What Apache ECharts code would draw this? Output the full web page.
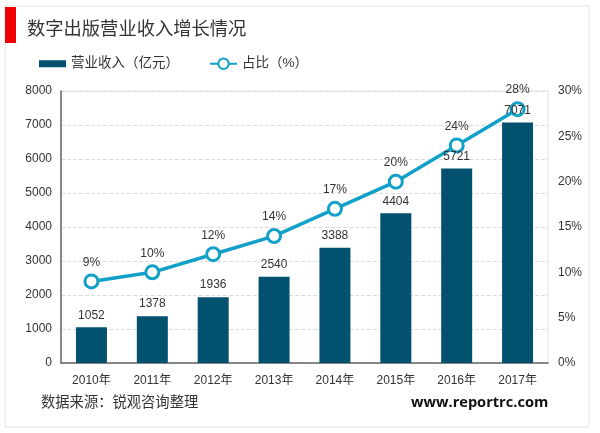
<!DOCTYPE html>
<html><head><meta charset="utf-8">
<style>html,body{margin:0;padding:0;background:#fff}#c{width:600px;height:433px}</style>
<script src="https://cdn.jsdelivr.net/npm/echarts@6/dist/echarts.min.js"></script>
</head><body><div id="c"></div>
<script>
const categories=['2010年','2011年','2012年','2013年','2014年','2015年','2016年','2017年'];
const revenue=[1052,1378,1936,2540,3388,4404,5721,7071];
const share=[9,10,12,14,17,20,24,28];
const titleText='数字出版营业收入增长情况';
const sourceText='数据来源：锐观咨询整理';
const siteText='www.reportrc.com';
const font='"Liberation Sans","Noto Sans CJK SC",sans-serif';
const chart=echarts.init(document.getElementById('c'),null,{renderer:'canvas'});
chart.setOption({
 animation:false,
 textStyle:{fontFamily:font},
 title:{text:titleText,left:27,top:21,padding:0,textStyle:{fontSize:18.3,fontWeight:'normal',color:'#333',fontFamily:font}},
 legend:{left:39,top:57,padding:0,itemGap:30,itemWidth:27,itemHeight:13,textStyle:{fontSize:13.5,color:'#333',fontFamily:font,padding:[0,0,0,0]},
  data:[{name:'营业收入（亿元）',icon:'path://M0,0L27,0L27,0Z M0,3L27,3L27,10L0,10Z M0,13L27,13L27,13Z'},{name:'占比（%）'}]},
 grid:{left:61,right:52,top:91,bottom:70,show:true,borderColor:'#e2e2e2',borderWidth:1,backgroundColor:'transparent'},
 xAxis:{type:'category',data:categories,axisTick:{show:false},axisLine:{lineStyle:{color:'#666',width:1.5}},
  axisLabel:{fontSize:12,color:'#333',margin:12,fontFamily:font}},
 yAxis:[
  {type:'value',min:0,max:8000,interval:1000,axisLine:{show:true,lineStyle:{color:'#666',width:1.5}},axisTick:{show:false},
   axisLabel:{fontSize:12,color:'#333',margin:9,formatter:(v)=>String(v),fontFamily:font},splitLine:{lineStyle:{color:'#dcdcdc',type:'dashed'}}},
  {type:'value',min:0,max:30,interval:5,axisLine:{show:false},axisTick:{show:false},
   axisLabel:{fontSize:12,color:'#333',margin:10,formatter:'{value}%',fontFamily:font},splitLine:{show:false}}
 ],
 series:[
  {name:'营业收入（亿元）',type:'bar',data:revenue,barWidth:31,itemStyle:{color:'#02516f'},
   label:{show:true,position:'top',distance:6,fontSize:12,color:'#333',fontFamily:font,formatter:(p)=>String(p.value)},z:5},
  {name:'占比（%）',type:'line',yAxisIndex:1,data:share,symbol:'circle',symbolSize:13,showAllSymbol:true,
   lineStyle:{color:'#11a0c8',width:3.5},itemStyle:{color:'#fff',borderColor:'#11a0c8',borderWidth:3},
   label:{show:true,position:'top',distance:5,fontSize:12,color:'#333',formatter:'{c}%',fontFamily:font},z:3}
 ],
 graphic:[
  {type:'rect',shape:{x:5,y:6,width:584,height:421},style:{fill:'none',stroke:'#e4e4e4',lineWidth:1},silent:true,z:-1},
  {type:'rect',shape:{x:5,y:7,width:11,height:36},style:{fill:'#f00000'},silent:true},
  {type:'text',x:41,y:396,style:{text:sourceText,fontSize:14.3,fill:'#333',fontFamily:font},silent:true},
  {type:'text',x:411,y:395,style:{text:siteText,fontSize:14.6,fontWeight:'bold',fill:'#111',fontFamily:'"Open Sans",sans-serif'},silent:true}
 ]
});
</script></body></html>
